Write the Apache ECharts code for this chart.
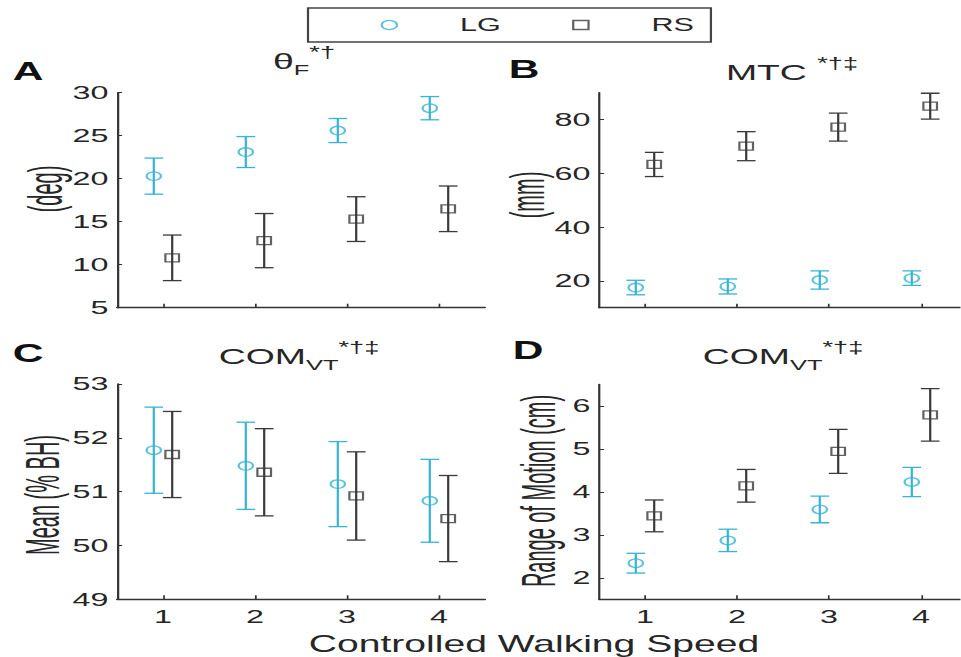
<!DOCTYPE html>
<html>
<head>
<meta charset="utf-8">
<script src="https://cdn.jsdelivr.net/npm/echarts@6/dist/echarts.min.js"></script>
<style>
  html, body { margin: 0; padding: 0; background: #fff; overflow: hidden; }
  #wrap { width: 961px; height: 657px; overflow: hidden; position: relative; }
  #chart { height: 657px; transform-origin: 0 0; position: absolute; left: 0; top: 0; }
</style>
</head>
<body>
<div id="wrap"><div id="chart"></div></div>
<script>
// ---- data ----
const speeds = [1, 2, 3, 4];
const speedTicks = [1, 2, 3, 4];

// A: foot angle (deg)
const thetaLG    = [20.3, 23.1, 25.6, 28.2];
const thetaLGErr = [2.1, 1.8, 1.4, 1.35];
const thetaRS    = [10.8, 12.8, 15.3, 16.5];
const thetaRSErr = [2.65, 3.15, 2.6, 2.65];

// B: minimum toe clearance (mm)
const mtcLG    = [17.5, 17.9, 20.3, 21.0];
const mtcLGErr = [2.7, 2.8, 3.4, 2.7];
const mtcRS    = [63.3, 70.1, 77.2, 85.0];
const mtcRSErr = [4.5, 5.4, 5.2, 4.8];

// C: vertical COM mean (% body height)
const comMeanLG    = [51.77, 51.48, 51.14, 50.83];
const comMeanLGErr = [0.80, 0.81, 0.79, 0.77];
const comMeanRS    = [51.69, 51.36, 50.92, 50.50];
const comMeanRSErr = [0.80, 0.81, 0.82, 0.80];

// D: vertical COM range of motion (cm)
const comRomLG    = [2.34, 2.87, 3.59, 4.23];
const comRomLGErr = [0.23, 0.26, 0.31, 0.34];
const comRomRS    = [3.44, 4.14, 4.94, 5.79];
const comRomRSErr = [0.37, 0.38, 0.51, 0.61];

const mtcTicks = [20, 40, 60, 80];
const romTicks = [2, 3, 4, 5, 6];

// ---- styling ----
const S = 1.7;                 // horizontal stretch of the whole figure
const ux = v => v / S;         // figure x (px) -> drawing x
const CYAN = '#35b4d4';
const DARK = '#3a3a3a';
const AXIS = '#333';
const TEXT = '#262626';
const FONT = '"Liberation Sans", Arial, Helvetica, sans-serif';
const OFFSET = 0.1;

const chartEl = document.getElementById('chart');
chartEl.style.width = (961 / S) + 'px';
chartEl.style.transform = 'scaleX(' + S + ')';

function errorBars(color) {
  return function (params, api) {
    const x = api.value(0);
    const top = api.coord([x, api.value(2)]);
    const bot = api.coord([x, api.value(1)]);
    const half = 5.5;
    const st = { stroke: color, lineWidth: 1.3 };
    return {
      type: 'group',
      children: [
        { type: 'line', shape: { x1: top[0], y1: top[1], x2: bot[0], y2: bot[1] }, style: st },
        { type: 'line', shape: { x1: top[0] - half, y1: top[1], x2: top[0] + half, y2: top[1] }, style: st },
        { type: 'line', shape: { x1: bot[0] - half, y1: bot[1], x2: bot[0] + half, y2: bot[1] }, style: st }
      ]
    };
  };
}

function panelSeries(idx, lg, lgErr, rs, rsErr) {
  const lgX = speeds.map(s => s - OFFSET);
  const rsX = speeds.map(s => s + OFFSET);
  return [
    {
      type: 'custom', name: 'LG error', xAxisIndex: idx, yAxisIndex: idx,
      renderItem: errorBars(CYAN), encode: { x: 0, y: [1, 2] }, z: 2,
      data: lgX.map((x, k) => [x, lg[k] - lgErr[k], lg[k] + lgErr[k]])
    },
    {
      type: 'custom', name: 'RS error', xAxisIndex: idx, yAxisIndex: idx,
      renderItem: errorBars(DARK), encode: { x: 0, y: [1, 2] }, z: 2,
      data: rsX.map((x, k) => [x, rs[k] - rsErr[k], rs[k] + rsErr[k]])
    },
    {
      type: 'scatter', name: 'LG', xAxisIndex: idx, yAxisIndex: idx, z: 3,
      symbol: 'circle', symbolSize: 8.5,
      itemStyle: { color: 'rgba(0,0,0,0)', borderColor: CYAN, borderWidth: 1.3 },
      data: lgX.map((x, k) => [x, lg[k]])
    },
    {
      type: 'scatter', name: 'RS', xAxisIndex: idx, yAxisIndex: idx, z: 3,
      symbol: 'rect', symbolSize: 8,
      itemStyle: { color: 'rgba(0,0,0,0)', borderColor: DARK, borderWidth: 1.3 },
      data: rsX.map((x, k) => [x, rs[k]])
    }
  ];
}

function xAxis(idx, showLabels) {
  return {
    type: 'value', gridIndex: idx, min: 0.5, max: 4.5,
    axisLine: { show: true, onZero: false, lineStyle: { color: AXIS, width: 1.3 } },
    axisTick: { show: true, inside: true, length: 4, customValues: speedTicks, lineStyle: { color: AXIS, width: 1 } },
    axisLabel: { show: showLabels, customValues: speedTicks, fontSize: 19, color: TEXT, fontFamily: FONT, margin: 8 },
    splitLine: { show: false }
  };
}

function yAxis(idx, opts) {
  const ax = {
    type: 'value', gridIndex: idx, min: opts.min, max: opts.max,
    axisLine: { show: true, onZero: false, lineStyle: { color: AXIS, width: 1.3 } },
    axisTick: { show: true, inside: true, length: 3, lineStyle: { color: AXIS, width: 1 } },
    axisLabel: { fontSize: 19, color: TEXT, fontFamily: FONT, margin: 5 },
    splitLine: { show: false }
  };
  if (opts.interval) ax.interval = opts.interval;
  if (opts.ticks) {
    ax.axisTick.customValues = opts.ticks;
    ax.axisLabel.customValues = opts.ticks;
  }
  return ax;
}

const titleRich = {
  m:   { fontSize: 22, lineHeight: 32, verticalAlign: 'middle', fontFamily: FONT, fill: TEXT },
  sub: { fontSize: 15, lineHeight: 15, verticalAlign: 'bottom', fontFamily: FONT, fill: TEXT },
  sup: { fontSize: 16, lineHeight: 16, verticalAlign: 'top', fontFamily: FONT, fill: TEXT }
};

function titleText(text, cx, cy) {
  return {
    type: 'text', x: ux(cx), y: cy,
    style: { text: text, rich: titleRich, align: 'center', verticalAlign: 'middle', fill: TEXT, font: '22px ' + FONT }
  };
}

function panelLetter(ch, cx, cy) {
  return {
    type: 'text', x: ux(cx), y: cy,
    style: { text: ch, align: 'center', verticalAlign: 'middle', fill: '#111', font: 'bold 25px ' + FONT }
  };
}

// rotated axis title, thickened across its reading direction
function yTitle(text, cx, cy) {
  return {
    type: 'text', x: ux(cx), y: cy, rotation: Math.PI / 2, scaleY: 1.4,
    style: { text: text, align: 'center', verticalAlign: 'middle', fill: TEXT, font: '20px ' + FONT }
  };
}

const chart = echarts.init(chartEl, null, { renderer: 'svg' });

chart.setOption({
  animation: false,
  backgroundColor: '#fff',
  legend: {
    left: ux(308), top: 8,
    padding: [8, 10, 8, 42.7],
    itemWidth: 9, itemHeight: 9, itemGap: 42,
    borderColor: '#444', borderWidth: 1.3,
    textStyle: { fontSize: 18, color: TEXT, fontFamily: FONT, padding: [0, 0, 0, 32] },
    data: [
      { name: 'LG', icon: 'circle', itemStyle: { color: 'rgba(0,0,0,0)', borderColor: CYAN, borderWidth: 1.3 } },
      { name: 'RS', icon: 'path://M0,0L10,0L10,10L0,10Z', itemStyle: { color: 'rgba(0,0,0,0)', borderColor: DARK, borderWidth: 1.3 } }
    ]
  },
  grid: [
    { left: ux(117), top: 92.7, width: ux(368), height: 215, outerBoundsMode: 'none' },
    { left: ux(599), top: 92.7, width: ux(368), height: 215, outerBoundsMode: 'none' },
    { left: ux(117), top: 384, width: ux(368), height: 215.3, outerBoundsMode: 'none' },
    { left: ux(599), top: 384.3, width: ux(368), height: 215, outerBoundsMode: 'none' }
  ],
  xAxis: [xAxis(0, false), xAxis(1, false), xAxis(2, true), xAxis(3, true)],
  yAxis: [
    yAxis(0, { min: 5, max: 30, interval: 5 }),
    yAxis(1, { min: 10, max: 90, ticks: mtcTicks }),
    yAxis(2, { min: 49, max: 53, interval: 1 }),
    yAxis(3, { min: 1.5, max: 6.5, ticks: romTicks })
  ],
  series: [].concat(
    panelSeries(0, thetaLG, thetaLGErr, thetaRS, thetaRSErr),
    panelSeries(1, mtcLG, mtcLGErr, mtcRS, mtcRSErr),
    panelSeries(2, comMeanLG, comMeanLGErr, comMeanRS, comMeanRSErr),
    panelSeries(3, comRomLG, comRomLGErr, comRomRS, comRomRSErr)
  ),
  graphic: [
    panelLetter('A', 28, 71),
    panelLetter('B', 524, 69),
    panelLetter('C', 28, 353),
    panelLetter('D', 528, 350),
    titleText('{m|θ}{sub|F}{sup|*†}', 304, 61),
    titleText('{m|MTC }{sup|*†‡}', 792, 72),
    titleText('{m|COM}{sub|VT}{sup|*†‡}', 299, 356),
    titleText('{m|COM}{sub|VT}{sup|*†‡}', 783, 356),
    yTitle('(deg)', 46, 189),
    yTitle('(mm)', 528, 195),
    yTitle('Mean (% BH)', 43, 495),
    yTitle('Range of Motion (cm)', 539, 491),
    {
      type: 'text', x: ux(534), y: 644,
      style: { text: 'Controlled Walking Speed', align: 'center', verticalAlign: 'middle', fill: TEXT, font: '23px ' + FONT }
    }
  ]
});
</script>
</body>
</html>
